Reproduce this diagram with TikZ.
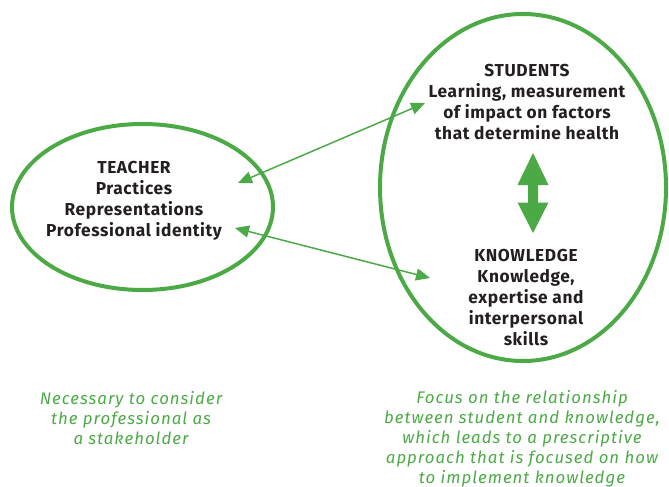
\documentclass[tikz,border=0pt]{standalone}
\usepackage{fontspec}
\setmainfont{Fira Sans}
\newfontfamily\boldface[LetterSpace=3.5]{Fira Sans Bold}
\newfontfamily\noteface[LetterSpace=6]{Fira Sans Italic}
\usetikzlibrary{arrows.meta}
\definecolor{leaf}{RGB}{76,170,70}
\definecolor{ink}{RGB}{35,31,32}
\tikzset{
  ring/.style={draw=leaf, line width=4pt},
  boldtxt/.style={text=ink, align=center, inner sep=0pt, font=\boldface\fontsize{17.3}{21}\selectfont},
  note/.style={text=leaf, align=center, inner sep=0pt, font=\noteface\fontsize{16.8}{20}\selectfont},
  link/.style={draw=leaf, line width=1.5pt, {Triangle[length=14pt,width=12pt]}-{Triangle[length=14pt,width=12pt]}},
  block/.style={fill=leaf, draw=none}
}
\begin{document}
\begin{tikzpicture}[x=1pt,y=-1pt]
\useasboundingbox (0,0) rectangle (669,487);
% ellipses
\draw[ring] (142.5,207) ellipse [x radius=130.5, y radius=83];
\draw[ring] (523,187.5) ellipse [x radius=143, y radius=173.5];
% texts
\node[boldtxt] (teacher) at (134,201) {TEACHER\\Practices\\Representations\\Professional identity};
\node[boldtxt] (students) at (527,102) {STUDENTS\\Learning, measurement\\of impact on factors\\that determine health};
\node[boldtxt] (knowledge) at (526,298) {KNOWLEDGE\\Knowledge,\\expertise and\\interpersonal\\skills};
\node[note] (leftnote) at (131,418) {Necessary to consider\\the professional as\\a stakeholder};
\node[note] (rightnote) at (522,439) {Focus on the relationship\\between student and knowledge,\\which leads to a prescriptive\\approach that is focused on how\\to implement knowledge};
% connector ends
\coordinate (t1) at (238,183);
\coordinate (s1) at (425,103);
\coordinate (t2) at (235,228);
\coordinate (k1) at (430,278);
\draw[link] (t1) -- (s1);
\draw[link] (t2) -- (k1);
% block double arrow between students and knowledge
\fill[block] (533,153) -- (548.5,185) -- (538,185) -- (538,202.5) -- (548.5,202.5) -- (533,233)
  -- (517.5,202.5) -- (528,202.5) -- (528,185) -- (517.5,185) -- cycle;
\end{tikzpicture}
\end{document}
